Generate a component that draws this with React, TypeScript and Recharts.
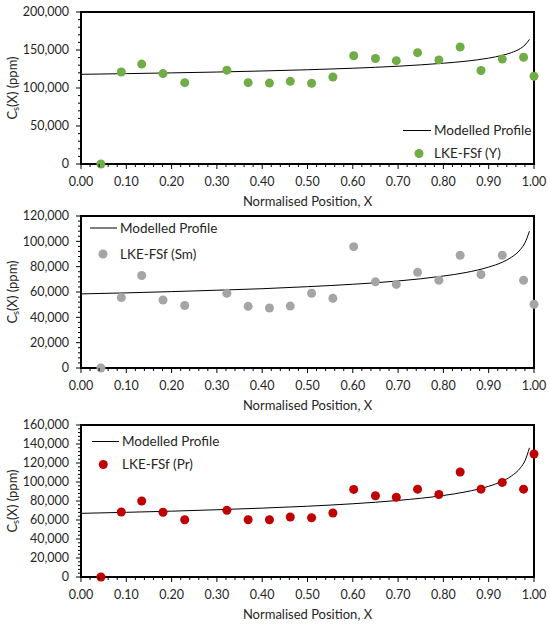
import React from 'react';
import { ComposedChart, Line, Scatter, XAxis, YAxis, ReferenceArea, Legend } from 'recharts';

// measured sample positions (normalised position X)
const positions = [0.044, 0.089, 0.134, 0.181, 0.229, 0.322, 0.369, 0.416, 0.462, 0.509, 0.556, 0.602, 0.65, 0.696, 0.743, 0.79, 0.837, 0.883, 0.93, 0.977, 1.0];

// LKE-FSf concentrations, ppm
const yttrium = [0, 121000, 131500, 119000, 107000, 123500, 107000, 106500, 108800, 106200, 114500, 142500, 138800, 136000, 146500, 137000, 154000, 123000, 138000, 140500, 115500];
const samarium = [0, 55600, 73000, 53700, 49300, 59000, 48700, 47400, 48900, 59000, 55000, 95800, 68000, 66000, 75500, 69300, 89000, 73800, 89000, 69300, 50300];
const praseodymium = [0, 68400, 80000, 68100, 60300, 70200, 60300, 60300, 63100, 62400, 67400, 92200, 85500, 84000, 92500, 86900, 110500, 92500, 99600, 92500, 129500];

// modelled profile
const modelPositions = [0, 0.1, 0.2, 0.3, 0.4, 0.5, 0.6, 0.7, 0.8, 0.85, 0.9, 0.93, 0.95, 0.97, 0.98, 0.99];
const yttriumModel = [118000, 118900, 119900, 121000, 122400, 124000, 126000, 128700, 132600, 135300, 139300, 143000, 146500, 152000, 156500, 164000];
const samariumModel = [58500, 59300, 60300, 61400, 62600, 64200, 66100, 68700, 72600, 75400, 79700, 83500, 87400, 93600, 98800, 108000];
const praseodymiumModel = [67000, 68100, 69300, 70800, 72500, 74500, 77100, 80600, 85800, 89700, 95500, 100800, 106200, 114900, 122300, 136000];

const FONT = 'Lato, "Open Sans", sans-serif';
const TEXT = '#262626';

const steps = (max: number, step: number) =>
  Array.from({ length: Math.round(max / step) + 1 }, (_, i) => Math.round(i * step * 1000) / 1000);

const isMajor = (v: number, major: number) => Math.abs(v / major - Math.round(v / major)) < 1e-6;

const XTick = (props: any) => {
  const { x, y, payload } = props;
  const v = payload.value;
  const major = isMajor(v, 0.1);
  return (
    <g>
      <line x1={x} x2={x} y1={y} y2={y + (major ? 5 : 3)} stroke="#000" strokeWidth={1} />
      {major && (
        <text x={x} y={y + 13} dy="0.71em" textAnchor="middle" fontFamily={FONT} fontSize={12.5} fill={TEXT}>
          {v.toFixed(2)}
        </text>
      )}
    </g>
  );
};

const makeYTick = (major: number) => (props: any) => {
  const { x, y, payload } = props;
  const v = payload.value;
  const isMaj = isMajor(v, major);
  return (
    <g>
      <line x1={x - (isMaj ? 5 : 3)} x2={x} y1={y} y2={y} stroke="#000" strokeWidth={1} />
      {isMaj && (
        <text x={x - 12} y={y} dy="0.355em" textAnchor="end" fontFamily={FONT} fontSize={12.5} fill={TEXT}>
          {v.toLocaleString('en-US')}
        </text>
      )}
    </g>
  );
};

const XTitle = (props: any) => {
  const vb = props.viewBox ?? props;
  return (
    <text x={vb.x + vb.width / 2} y={vb.y + 37} dominantBaseline="central" textAnchor="middle" fontFamily={FONT} fontSize={13} fill={TEXT}>
      Normalised Position, X
    </text>
  );
};

const YTitle = (props: any) => {
  const vb = props.viewBox ?? props;
  const cy = vb.y + vb.height / 2;
  return (
    <text x={12} y={cy} transform={`rotate(-90, 12, ${cy})`} dominantBaseline="central" textAnchor="middle" fontFamily={FONT} fontSize={13} fill={TEXT}>
      C<tspan fontSize={9} dy={3}>s</tspan>
      <tspan dy={-3}>(X) (ppm)</tspan>
    </text>
  );
};

const LegendBox = ({ color, name, rowH, lineW, dotX }: any) => (
  <div style={{ fontFamily: FONT, fontSize: 13.5, color: TEXT, whiteSpace: 'nowrap' }}>
    <div style={{ display: 'flex', alignItems: 'center', height: rowH }}>
      <svg width={lineW} height={rowH}>
        <line x1={0} x2={lineW} y1={rowH / 2} y2={rowH / 2} stroke="#000" strokeWidth={1} />
      </svg>
      <span style={{ marginLeft: 3 }}>Modelled Profile</span>
    </div>
    <div style={{ display: 'flex', alignItems: 'center', height: rowH }}>
      <svg width={lineW} height={rowH}>
        <circle cx={dotX} cy={rowH / 2} r={4.5} fill={color} />
      </svg>
      <span style={{ marginLeft: 3 }}>{name}</span>
    </div>
  </div>
);

const panels = [
  { top: 0, values: yttrium, model: yttriumModel, color: '#70AD47', name: 'LKE-FSf (Y)', yMax: 200000, major: 50000, minor: 10000,
    legend: { left: 403, top: 118.5, rowH: 23, lineW: 28, dotX: 16 } },
  { top: 204, values: samarium, model: samariumModel, color: '#A5A5A5', name: 'LKE-FSf (Sm)', yMax: 120000, major: 20000, minor: 4000,
    legend: { left: 90, top: 11, rowH: 26, lineW: 27, dotX: 13 } },
  { top: 413, values: praseodymium, model: praseodymiumModel, color: '#C00000', name: 'LKE-FSf (Pr)', yMax: 160000, major: 20000, minor: 4000,
    legend: { left: 92, top: 16.5, rowH: 23, lineW: 27, dotX: 11.3 } },
];

const xTicks = steps(1, 0.02);

const Panel = ({ p }: any) => {
  const points = positions.map((x, i) => ({ x, y: p.values[i] }));
  const curve = modelPositions.map((x, i) => ({ x, y: p.model[i] }));
  const YTick = makeYTick(p.major);
  return (
    <div style={{ position: 'absolute', left: 0, top: p.top }}>
      <ComposedChart width={550} height={210} margin={{ top: 12, right: 16, bottom: 0, left: 0 }}>
        <XAxis
          dataKey="x"
          type="number"
          domain={[0, 1]}
          ticks={xTicks}
          interval={0}
          tickSize={0}
          tickMargin={0}
          tick={(t: any) => <XTick {...t} />}
          axisLine={{ stroke: '#000', strokeWidth: 2 }}
          height={46}
          label={(l: any) => <XTitle {...l} />}
        />
        <YAxis
          type="number"
          domain={[0, p.yMax]}
          ticks={steps(p.yMax, p.minor)}
          interval={0}
          tickSize={0}
          tickMargin={0}
          tick={(t: any) => <YTick {...t} />}
          axisLine={{ stroke: '#000', strokeWidth: 2 }}
          width={81}
          label={(l: any) => <YTitle {...l} />}
        />
        <ReferenceArea x1={0} x2={1} y1={0} y2={p.yMax} fill="none" stroke="#000" strokeWidth={2} />
        <Line
          data={curve}
          dataKey="y"
          type="monotone"
          stroke="#000"
          strokeWidth={1}
          dot={false}
          isAnimationActive={false}
          name="Modelled Profile"
        />
        <Scatter
          data={points}
          dataKey="y"
          name={p.name}
          fill={p.color}
          isAnimationActive={false}
          shape={(s: any) => <circle cx={s.cx} cy={s.cy} r={4.5} fill={p.color} />}
        />
        <Legend
          layout="vertical"
          align="center"
          verticalAlign="middle"
          wrapperStyle={{ left: p.legend.left, top: p.legend.top, width: 'auto', margin: 0, padding: 0 }}
          content={() => <LegendBox color={p.color} name={p.name} {...p.legend} />}
        />
      </ComposedChart>
    </div>
  );
}

export default function App() {
  return (
    <div style={{ position: 'absolute', left: 0, top: 0, width: 550, height: 629, background: '#fff' }}>
      {panels.map((p) => (
        <Panel key={p.name} p={p} />
      ))}
    </div>
  );
}
